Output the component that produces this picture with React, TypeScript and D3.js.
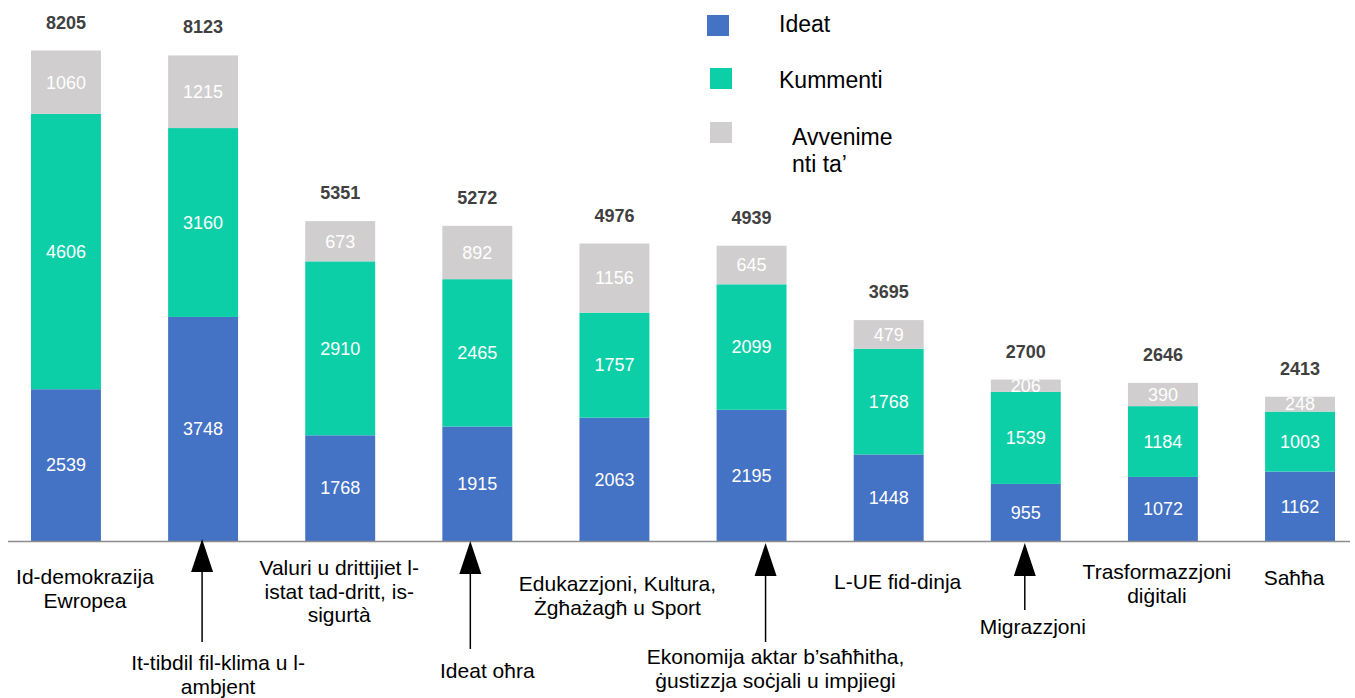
import React from "react";
import * as d3 from "d3";

const categories: string[][] = [
  ["Id-demokrazija", "Ewropea"],
  ["It-tibdil fil-klima u l-", "ambjent"],
  ["Valuri u drittijiet l-", "istat tad-dritt, is-", "sigurtà"],
  ["Ideat oħra"],
  ["Edukazzjoni, Kultura,", "Żgħażagħ u Sport"],
  ["Ekonomija aktar b’saħħitha,", "ġustizzja soċjali u impjiegi"],
  ["L-UE fid-dinja"],
  ["Migrazzjoni"],
  ["Trasformazzjoni", "diġitali"],
  ["Saħħa"],
];
const ideat = [2539, 3748, 1768, 1915, 2063, 2195, 1448, 955, 1072, 1162];
const kummenti = [4606, 3160, 2910, 2465, 1757, 2099, 1768, 1539, 1184, 1003];
const avvenimenti = [1060, 1215, 673, 892, 1156, 645, 479, 206, 390, 248];
const totals = [8205, 8123, 5351, 5272, 4976, 4939, 3695, 2700, 2646, 2413];
const seriesNames = ["Ideat", "Kummenti", "Avvenimenti ta’"];

// layout of the category labels (offset from bar centre, first baseline)
const labelLayout = [
  { dx: 19, y: 584 },
  { dx: 15, y: 670 },
  { dx: -1, y: 575 },
  { dx: 10, y: 678 },
  { dx: 3, y: 591 },
  { dx: 24, y: 664 },
  { dx: 9, y: 589 },
  { dx: 7, y: 634 },
  { dx: -6, y: 579 },
  { dx: -6, y: 585 },
];
// arrows: category index, horizontal offset, tail end y
const arrows = [
  { i: 1, dx: -1, tip: 539, tail: 642 },
  { i: 3, dx: -7, tip: 541, tail: 649 },
  { i: 5, dx: 14, tip: 543, tail: 642 },
  { i: 7, dx: -1, tip: 543, tail: 610 },
];

const COLORS = ["#4472C4", "#0CCFA8", "#D0CECE"];
const FONT = "'Liberation Sans', Arial, sans-serif";

export default function App() {
  const width = 1355;
  const height = 698;
  const baseY = 541;
  const idx = categories.map((_, i) => String(i));
  const x = d3.scaleBand<string>().domain(idx).range([31, 1335]).paddingInner(0.49).paddingOuter(0);
  const y = d3.scaleLinear().domain([0, 9000]).range([baseY, 3]);

  const rows = categories.map((_, i) => ({
    i,
    ideat: ideat[i],
    kummenti: kummenti[i],
    avvenimenti: avvenimenti[i],
  }));
  const stack = d3.stack<any>().keys(["ideat", "kummenti", "avvenimenti"]);
  const series = stack(rows);
  const bw = x.bandwidth();

  const legendItems = [
    { c: COLORS[0], sq: [707, 15], lines: ["Ideat"], tx: 779, ty: 32 },
    { c: COLORS[1], sq: [710, 68], lines: ["Kummenti"], tx: 779, ty: 88 },
    { c: COLORS[2], sq: [710, 122], lines: ["Avvenime", "nti ta’"], tx: 792, ty: 145 },
  ];

  return (
    <svg
      width={width}
      height={height}
      style={{ position: "absolute", left: 0, top: 0, background: "#fff" }}
      fontFamily={FONT}
    >
      <rect width={width} height={height} fill="#fff" />
      {series.map((s, si) => (
        <g key={si}>
          {s.map((d, i) => {
            const x0 = x(String(i))!;
            const y0 = y(d[1]);
            const y1 = y(d[0]);
            return (
              <g key={i}>
                <rect x={x0} y={y0} width={bw} height={y1 - y0} fill={COLORS[si]} />
                <text
                  x={x0 + bw / 2}
                  y={(y0 + y1) / 2}
                  dy="0.35em"
                  textAnchor="middle"
                  fill="#fff"
                  fontSize={18}
                >
                  {d[1] - d[0]}
                </text>
              </g>
            );
          })}
        </g>
      ))}
      {totals.map((t, i) => (
        <text
          key={i}
          x={x(String(i))! + bw / 2}
          y={y(t) - 22}
          textAnchor="middle"
          fontWeight="bold"
          fontSize={18}
          fill="#404040"
        >
          {t}
        </text>
      ))}
      <line x1={8} x2={1350} y1={baseY + 0.5} y2={baseY + 0.5} stroke="#8c8c8c" strokeWidth={1.3} />
      {categories.map((lines, i) => {
        const cx = x(String(i))! + bw / 2 + labelLayout[i].dx;
        return (
          <text key={i} textAnchor="middle" fontSize={21} fill="#000">
            {lines.map((l, li) => (
              <tspan key={li} x={cx} y={labelLayout[i].y + li * 23.5}>
                {l}
              </tspan>
            ))}
          </text>
        );
      })}
      {arrows.map((a, k) => {
        const ax = x(String(a.i))! + bw / 2 + a.dx;
        const headH = 33;
        return (
          <g key={k}>
            <line x1={ax} x2={ax} y1={a.tip + headH - 2} y2={a.tail} stroke="#000" strokeWidth={1.5} />
            <path
              d={`M${ax},${a.tip} L${ax + 11},${a.tip + headH} L${ax - 11},${a.tip + headH} Z`}
              fill="#000"
            />
          </g>
        );
      })}
      {legendItems.map((it, k) => (
        <g key={k}>
          <rect x={it.sq[0]} y={it.sq[1]} width={22} height={21} fill={it.c} />
          <text fontSize={23} fill="#000">
            {it.lines.map((l, li) => (
              <tspan key={li} x={it.tx} y={it.ty + li * 27}>
                {l}
              </tspan>
            ))}
          </text>
        </g>
      ))}
      <title>{seriesNames.join(", ")}</title>
    </svg>
  );
}
